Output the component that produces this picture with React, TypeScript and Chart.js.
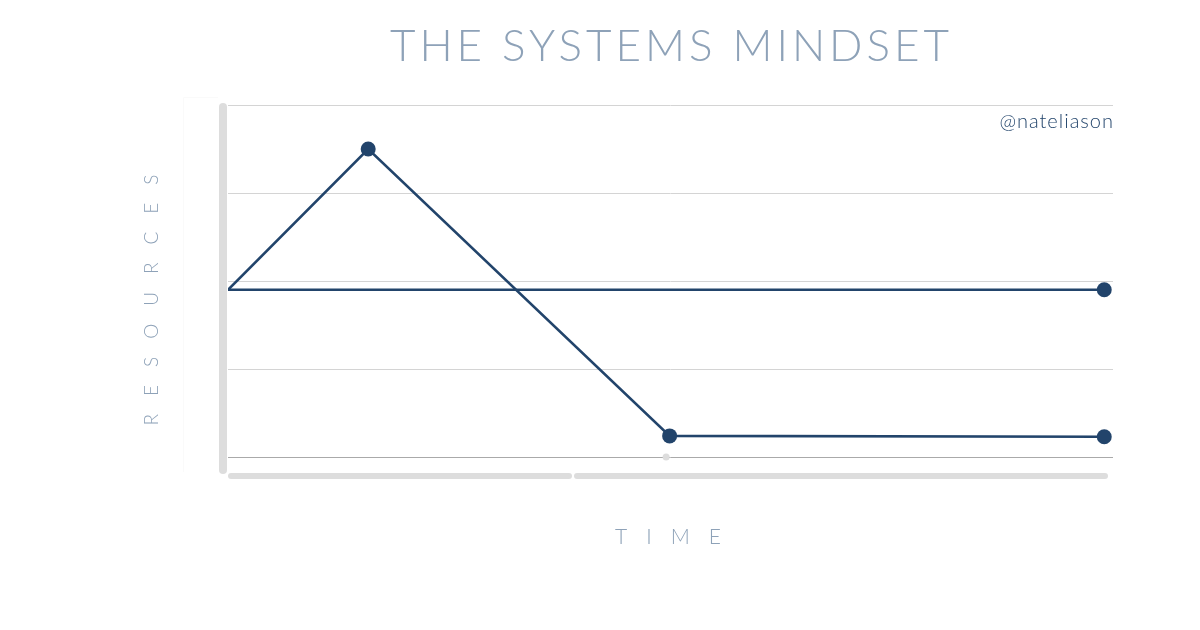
import React, { useEffect, useRef } from "react";
import { Chart, registerables } from "chart.js";

Chart.register(...registerables);

const TITLE = "THE SYSTEMS MINDSET";
const X_TITLE = "TIME";
const Y_TITLE = "RESOURCES";
const CREDIT = "@nateliason";

const systemX = [0, 1.6, 5.04, 10];
const systemY = [1.9, 3.5, 0.24, 0.23];
const flatX = [0, 10];
const flatY = [1.9, 1.9];
const axisDotX = [5.0];
const axisDotY = [0];

const NAVY = "#22446b";
const MUTED = "#8ea2b8";

const decor = {
  id: "decor",
  beforeDraw(chart: any) {
    const { ctx, chartArea: a } = chart;
    ctx.save();
    ctx.strokeStyle = "#fafafa";
    ctx.lineWidth = 1;
    ctx.beginPath();
    ctx.moveTo(183.5, a.bottom + 15);
    ctx.lineTo(183.5, 97.5);
    ctx.lineTo(a.left - 10, 97.5);
    ctx.stroke();
    ctx.restore();
  },
  afterDatasetsDraw(chart: any) {
    const { ctx, chartArea: a } = chart;
    ctx.save();
    ctx.fillStyle = "#dddddd";
    const rr = (x: number, y: number, w: number, h: number, r: number) => {
      ctx.beginPath();
      ctx.roundRect(x, y, w, h, r);
      ctx.fill();
    };
    rr(a.left - 9, a.top - 2, 8, a.bottom - a.top + 19, 4);
    rr(a.left, a.bottom + 16, 344, 6, 3);
    rr(a.left + 346, a.bottom + 16, a.right - a.left - 351, 6, 3);
    ctx.restore();
  },
  afterDraw(chart: any) {
    const { ctx, chartArea: a } = chart;
    const cx = (a.left + a.right) / 2;
    ctx.save();
    ctx.textBaseline = "middle";
    // title
    ctx.fillStyle = MUTED;
    ctx.font = "300 44px Lato";
    (ctx as any).letterSpacing = "4px";
    ctx.textAlign = "center";
    ctx.fillText(TITLE, cx + 1, 47);
    // x title
    ctx.font = "300 21px Lato";
    (ctx as any).letterSpacing = "19px";
    ctx.fillText(X_TITLE, cx + 7, 537);
    // y title
    ctx.save();
    ctx.translate(152, 300);
    ctx.rotate(-Math.PI / 2);
    ctx.font = "300 19px Lato";
    (ctx as any).letterSpacing = "18px";
    ctx.fillText(Y_TITLE, 9, 0);
    ctx.restore();
    // credit
    ctx.fillStyle = NAVY;
    ctx.font = "300 20px Lato";
    (ctx as any).letterSpacing = "1px";
    ctx.textAlign = "right";
    ctx.fillText(CREDIT, a.right + 1, 122);
    ctx.restore();
  },
};

export default function App() {
  const ref = useRef<HTMLCanvasElement>(null);
  useEffect(() => {
    const chart = new Chart(ref.current!, {
      type: "line",
      data: {
        datasets: [
          {
            data: systemX.map((x, i) => ({ x, y: systemY[i] })),
            borderColor: NAVY,
            backgroundColor: NAVY,
            borderWidth: 2.6,
            pointRadius: [0, 7.5, 7.5, 7.5],
            pointBorderWidth: 0,
            tension: 0,
          },
          {
            data: flatX.map((x, i) => ({ x, y: flatY[i] })),
            borderColor: NAVY,
            backgroundColor: NAVY,
            borderWidth: 2.6,
            pointRadius: [0, 7.5],
            pointBorderWidth: 0,
            tension: 0,
          },
          {
            data: axisDotX.map((x, i) => ({ x, y: axisDotY[i] })),
            borderColor: "#dddddd",
            backgroundColor: "#dddddd",
            showLine: false,
            pointRadius: 3.5,
            pointBorderWidth: 0,
            clip: false,
          },
        ],
      },
      options: {
        animation: false,
        responsive: false,
        layout: { padding: { left: 228, right: 87, top: 105, bottom: 173 } },
        plugins: { legend: { display: false }, tooltip: { enabled: false }, title: { display: false } },
        scales: {
          x: {
            type: "linear",
            min: 0,
            max: 10.1,
            display: false,
          },
          y: {
            min: 0,
            max: 4,
            ticks: { display: false, stepSize: 1 },
            border: { display: false },
            grid: {
              drawTicks: false,
              color: (c: any) => (c.tick && c.tick.value === 0 ? "#aaaaaa" : "#d4d4d4"),
              lineWidth: 1,
            },
          },
        },
      },
      plugins: [decor],
    });
    return () => chart.destroy();
  }, []);
  return (
    <div style={{ position: "fixed", left: 0, top: 0, width: 1200, height: 630, background: "#fff" }}>
      <canvas ref={ref} width={1200} height={630} style={{ display: "block" }} />
    </div>
  );
}
